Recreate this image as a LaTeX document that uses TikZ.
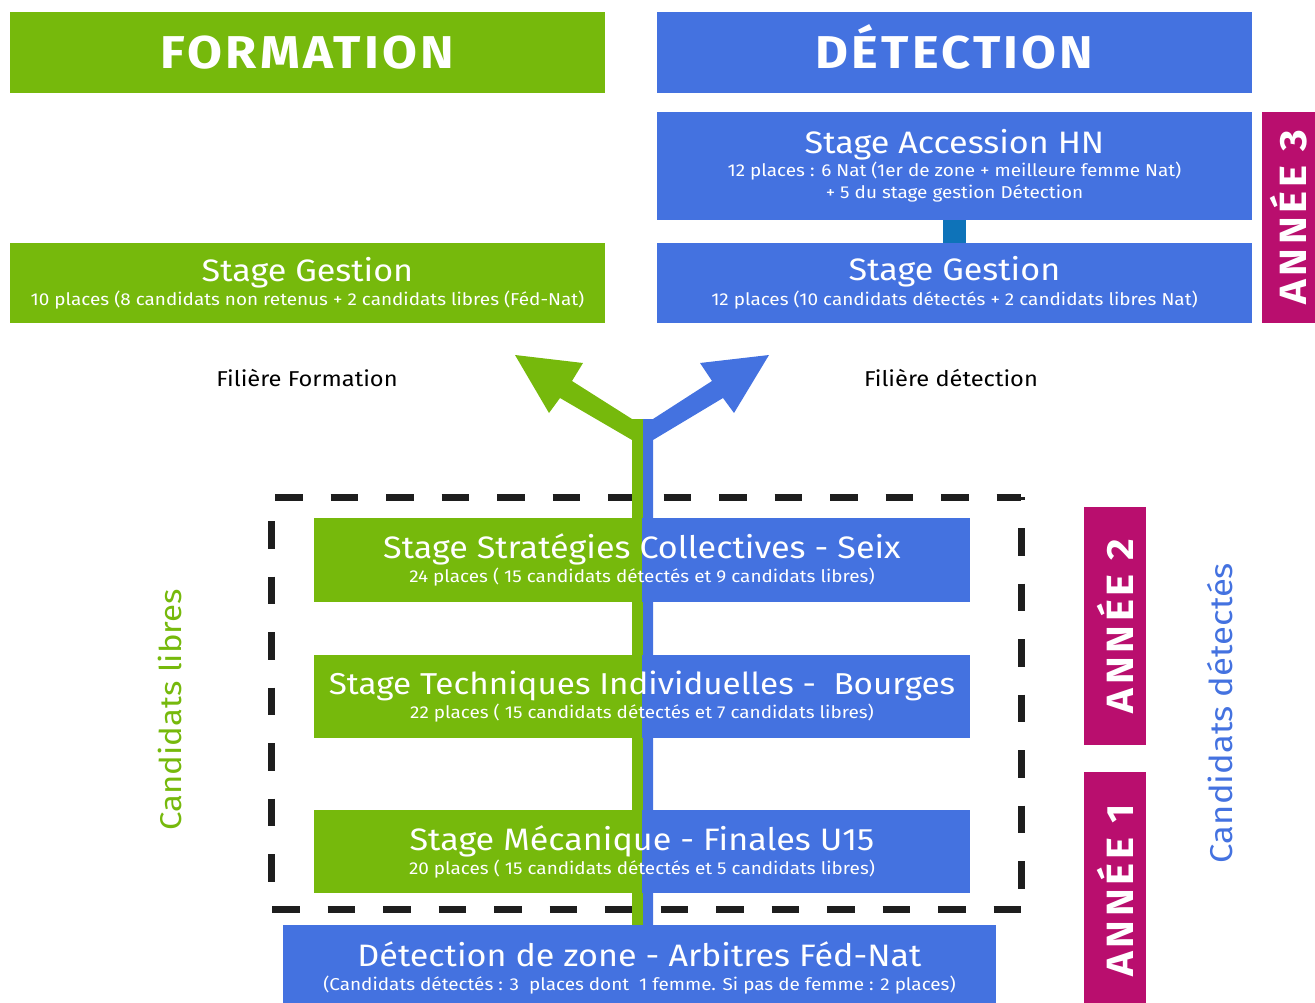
\documentclass[tikz,border=0pt]{standalone}
\usepackage{fontspec}
\setmainfont{Fira Sans}[FakeStretch=1.1]
\definecolor{fgreen}{HTML}{76B90C}
\definecolor{dblue}{HTML}{4472E0}
\definecolor{amag}{HTML}{B90E6E}
\definecolor{connblue}{HTML}{0E73B9}
\definecolor{dashblack}{HTML}{1E1E1E}
\newcommand{\ttl}{\fontsize{31}{33}\selectfont}
\newcommand{\sbt}{\fontsize{17.2}{22}\selectfont}
\begin{document}
\begin{tikzpicture}[x=1pt,y=-1pt,
  header/.style={minimum width=595pt, minimum height=81pt, inner sep=0pt, text=white,
    text height=32pt, text depth=0pt,
    font=\fontsize{46}{48}\selectfont\bfseries\addfontfeatures{LetterSpace=7}},
  stagebox/.style={minimum width=595pt, inner sep=0pt, text=white, align=center, font=\sbt},
  splitbox/.style={minimum width=656pt, minimum height=84pt, inner sep=0pt, text=white, align=center, fill=fgreen, font=\sbt,
    path picture={\fill[dblue] (path picture bounding box.north) rectangle (path picture bounding box.south east);}},
  yearbox/.style={fill=amag, inner sep=0pt, text=white, rotate=90,
    font=\fontsize{38}{40}\selectfont\bfseries\addfontfeatures{LetterSpace=10}},
  sidelabel/.style={rotate=90},
  filiere/.style={font=\fontsize{21.5}{23}\selectfont, text=black},
  dashline/.style={dashblack, line width=7pt, dash pattern=on 27.5pt off 28pt}
]
\useasboundingbox (0,0) rectangle (1315,1003);

% headers
\node[header, fill=fgreen] (hform) at (307.5,52.5) {FORMATION};
\node[header, fill=dblue] (hdet) at (954.5,52.5) {DÉTECTION};

% year 3 column
\node[stagebox, fill=dblue, minimum height=108pt] (acc) at (954.5,166)
  {{\ttl Stage Accession HN}\\[1pt]12 places : 6 Nat (1er de zone + meilleure femme Nat)\\+ 5 du stage gestion Détection};
\node[stagebox, fill=dblue, minimum height=80pt] (gdet) at (954.5,283)
  {{\ttl Stage Gestion}\\[3pt]12 places (10 candidats détectés + 2 candidats libres Nat)};
\draw[connblue, line width=23pt] (acc.south) -- (gdet.north);
\node[stagebox, fill=fgreen, minimum height=80pt] (gform) at (307.5,283)
  {{\ttl Stage Gestion}\\[2pt]10 places (8 candidats non retenus + 2 candidats libres (Féd-Nat)};
\node[yearbox, minimum width=211pt, minimum height=53pt] (a3) at (1288.5,217.5) {ANNÉE 3};

% filiere labels
\node[filiere] (ff) at (307,378) {Filière Formation};
\node[filiere] (fd) at (951,378) {Filière détection};

% dashed frame
\coordinate (ftl) at (271,497);
\coordinate (ftr) at (1021,497);
\coordinate (fbl) at (271,909);
\coordinate (fbr) at (1021,909);
\draw[dashline, dash phase=51.5pt] (ftl) -- (ftr);
\draw[dashline, dash phase=31.5pt] (ftl) -- (fbl);
\draw[dashline, dash phase=24.5pt] (ftr) -- (fbr);
\draw[dashline, dash phase=-1pt] (fbl) -- (fbr);

% stem and arrows
\fill[fgreen] (643,419) -- (632,419) -- (572,381) -- (583,363) -- (515,355) -- (549,413) -- (560,398) -- (632,440) -- (632,925) -- (643,925) -- cycle;
\fill[dblue] (643,419) -- (653,419) -- (712,381) -- (700,363) -- (769,355) -- (734,413) -- (723,398) -- (653,440) -- (653,925) -- (643,925) -- cycle;

% split stages
\node[splitbox] (s1) at (642,560)
  {{\ttl Stage Stratégies Collectives - Seix}\\[2pt]24 places ( 15 candidats détectés et 9 candidats libres)};
\node[splitbox, minimum height=83pt] (s2) at (642,696.5)
  {{\fontsize{30.2}{33}\selectfont Stage Techniques Individuelles -\ \ Bourges}\\[2pt]22 places ( 15 candidats détectés et 7 candidats libres)};
\node[splitbox, minimum height=83pt] (s3) at (642,851.5)
  {{\ttl Stage Mécanique - Finales U15}\\[2pt]20 places ( 15 candidats détectés et 5 candidats libres)};

% detection de zone
\node[fill=dblue, minimum width=713pt, minimum height=86pt, inner sep=0pt, text=white, align=center, font=\sbt] (dz) at (639.5,968)
  {{\ttl Détection de zone - Arbitres Féd-Nat}\\[2pt](Candidats détectés : 3\ \ places dont\ \ 1 femme. Si pas de femme : 2 places)};

% years
\node[yearbox, minimum width=238pt, minimum height=62pt] (a2) at (1115,626) {ANNÉE 2};
\node[yearbox, minimum width=237pt, minimum height=62pt] (a1) at (1115,890.5) {ANNÉE 1};

% side labels
\node[sidelabel, text=fgreen, font=\fontsize{30}{32}\selectfont] (cl) at (170,710) {Candidats libres};
\node[sidelabel, text=dblue, font=\fontsize{31.5}{33}\selectfont] (cd) at (1220,713) {Candidats détectés};
\end{tikzpicture}
\end{document}
